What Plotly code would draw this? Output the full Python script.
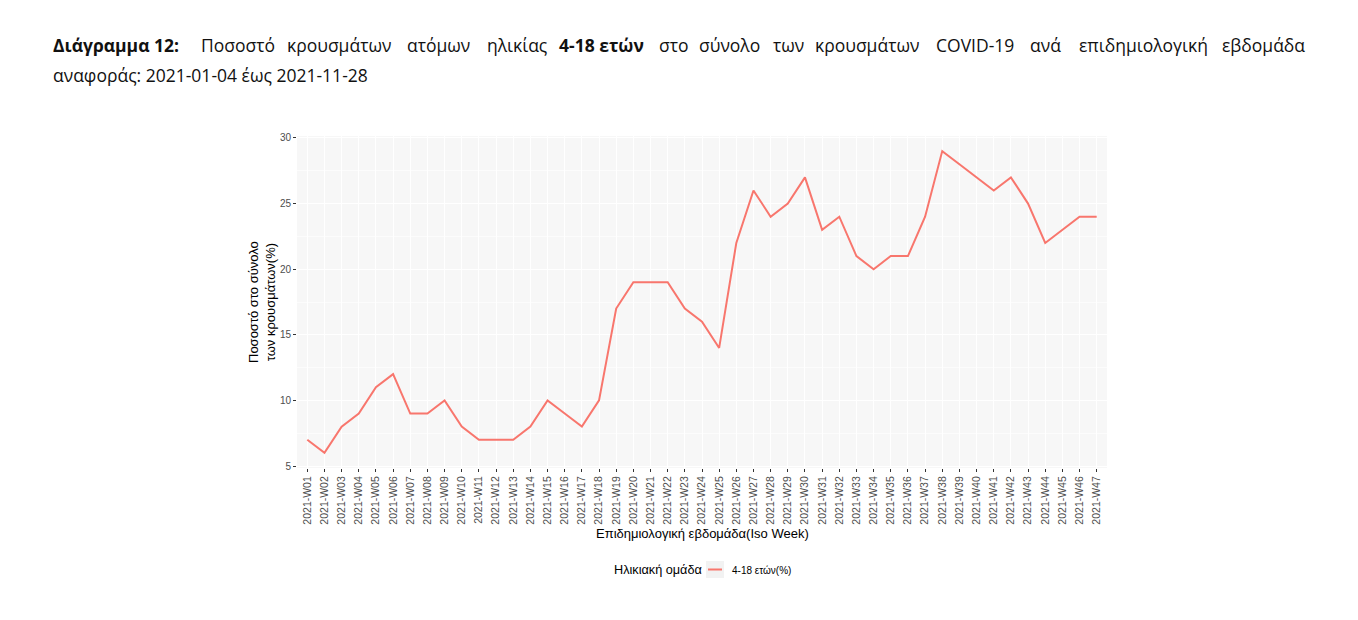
import plotly.graph_objects as go

weeks = [f"2021-W{i:02d}" for i in range(1, 48)]
values = [7, 6, 8, 9, 11, 12, 9, 9, 10, 8, 7, 7, 7, 8, 10, 9, 8, 10, 17, 19,
          19, 19, 17, 16, 14, 22, 26, 24, 25, 27, 23, 24, 21, 20, 21, 21, 24, 29,
          28, 27, 26, 27, 25, 22, 23, 24, 24]
series_name = "4-18 ετών(%)"
legend_title = "Ηλικιακή ομάδα"
y_title = "Ποσοστό στο σύνολο<br>των κρουσμάτων(%)"
x_title = "Επιδημιολογική εβδομάδα(Iso Week)"
title_line1 = [("<b>Διάγραμμα 12:</b>", 51), ("Ποσοστό", 199), ("κρουσμάτων", 285),
               ("ατόμων", 405), ("ηλικίας", 485), ("<b>4-18 ετών</b>", 557), ("στο", 657),
               ("σύνολο", 697), ("των", 771), ("κρουσμάτων", 813), ("COVID-19", 934),
               ("ανά", 1028), ("επιδημιολογική", 1077), ("εβδομάδα", 1220)]
title_line2 = "αναφοράς: 2021-01-04 έως 2021-11-28"

LINE_COLOR = "#F8766D"
OFF = 8  # page body margin
W, H = 1358 - 2 * OFF, 620 - 2 * OFF
L, R, T, B = 297, 1107, 136, 468  # target pixel positions in the window

def px(x):
    return (x - L) / (R - L)

def py(y):
    return (B - y) / (B - T)

fig = go.Figure()
fig.add_trace(go.Scatter(x=weeks, y=values, mode="lines", name=series_name,
                         line=dict(color=LINE_COLOR, width=2), showlegend=False))

annotations = []
for word, x in title_line1:
    annotations.append(dict(text=word, x=px(x), y=py(45), xref="paper", yref="paper",
                            xanchor="left", yanchor="middle", showarrow=False,
                            font=dict(family="Open Sans", size=17.5, color="#111111")))
annotations.append(dict(text=title_line2, x=px(51), y=py(75), xref="paper", yref="paper",
                        xanchor="left", yanchor="middle", showarrow=False,
                        font=dict(family="Open Sans", size=17.5, color="#111111")))
annotations.append(dict(text=y_title, x=px(262), y=py(302), xref="paper", yref="paper",
                        xanchor="center", yanchor="middle", showarrow=False, textangle=-90,
                        font=dict(family="Liberation Sans", size=13, color="black")))
annotations.append(dict(text=x_title, x=px(702), y=py(533), xref="paper", yref="paper",
                        xanchor="center", yanchor="middle", showarrow=False,
                        font=dict(family="Liberation Sans", size=13, color="black")))
# legend (ggplot-style key)
annotations.append(dict(text=legend_title, x=px(612), y=py(570), xref="paper", yref="paper",
                        xanchor="left", yanchor="middle", showarrow=False,
                        font=dict(family="Liberation Sans", size=12.7, color="black")))
annotations.append(dict(text=series_name, x=px(730), y=py(570), xref="paper", yref="paper",
                        xanchor="left", yanchor="middle", showarrow=False,
                        font=dict(family="Liberation Sans", size=10, color="black")))

shapes = [
    dict(type="rect", xref="paper", yref="paper", x0=px(706), x1=px(724),
         y0=py(578), y1=py(561), fillcolor="#F2F2F2", line=dict(width=0), layer="below"),
    dict(type="line", xref="paper", yref="paper", x0=px(708), x1=px(722),
         y0=py(569.5), y1=py(569.5), line=dict(color=LINE_COLOR, width=2)),
]

fig.update_layout(
    width=W, height=H,
    margin=dict(l=L - OFF, r=W + OFF - R, t=T - OFF, b=H + OFF - B),
    paper_bgcolor="white",
    plot_bgcolor="#F7F7F7",
    showlegend=False,
    annotations=annotations,
    shapes=shapes,
    xaxis=dict(type="category", range=[-0.6, 46.6], showgrid=True, gridcolor="white", gridwidth=1,
               ticks="outside", ticklen=3, tickcolor="#333333", tickwidth=1,
               tickangle=-90, tickfont=dict(family="Liberation Sans", size=10.5, color="#4D4D4D"),
               showline=False, zeroline=False),
    yaxis=dict(range=[4.85, 30.15], tickvals=[5, 10, 15, 20, 25, 30], showgrid=True,
               gridcolor="white", gridwidth=1.2,
               minor=dict(tickvals=[7.5, 12.5, 17.5, 22.5, 27.5], showgrid=True,
                          gridcolor="#FCFCFC", gridwidth=0.6, ticks=""),
               ticks="outside", ticklen=3, tickcolor="#333333", tickwidth=1,
               tickfont=dict(family="Liberation Sans", size=10, color="#4D4D4D"),
               showline=False, zeroline=False),
)

fig.write_html("out.html")
